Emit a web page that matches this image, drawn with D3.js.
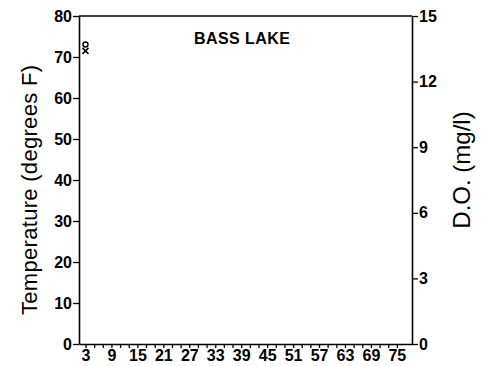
<!DOCTYPE html>
<html><head><meta charset="utf-8">
<script src="https://cdn.jsdelivr.net/npm/d3@7"></script>
<style>
html,body{margin:0;padding:0;background:#fff;}
svg{display:block;font-family:"Liberation Sans",Arial,sans-serif;}
</style></head>
<body>
<svg id="chart" width="484" height="366"></svg>
<script>
// ---- data ----
const title = "BASS LAKE";
const xTickLabels = [3, 9, 15, 21, 27, 33, 39, 45, 51, 57, 63, 69, 75];
const tempTicks = [0, 10, 20, 30, 40, 50, 60, 70, 80];
const doTicks = [0, 3, 6, 9, 12, 15];
const tempDays = [3];
const tempValues = [71.5];
const doDays = [3];
const doValues = [13.7];

// ---- layout ----
const W = 484, H = 366;
const m = {left: 79, right: 72, top: 16, bottom: 22};
const svg = d3.select("#chart");
const x = d3.scaleLinear().domain([1.5, 78.5]).range([m.left, W - m.right]);
const yT = d3.scaleLinear().domain([0, 80]).range([H - m.bottom, m.top]);
const yD = d3.scaleLinear().domain([0, 15]).range([H - m.bottom, m.top]);

const tickFont = "bold 16px 'Liberation Sans', Arial, sans-serif";

// top frame line
svg.append("line").attr("x1", x.range()[0]).attr("x2", x.range()[1])
  .attr("y1", m.top).attr("y2", m.top).attr("stroke", "#000").attr("stroke-width", 1.6);

// left axis
const gL = svg.append("g").attr("transform", `translate(${m.left},0)`)
  .call(d3.axisLeft(yT).tickValues(tempTicks).tickSize(6).tickPadding(1).tickSizeOuter(0));
// right axis
const gR = svg.append("g").attr("transform", `translate(${W - m.right},0)`)
  .call(d3.axisRight(yD).tickValues(doTicks).tickSize(6).tickPadding(1).tickSizeOuter(0));
// bottom axis
const minor = d3.range(3, 77, 2);
const gB = svg.append("g").attr("transform", `translate(0,${H - m.bottom})`)
  .call(d3.axisBottom(x).tickValues(minor).tickSize(4).tickSizeOuter(0)
    .tickFormat(d => xTickLabels.includes(d) ? d : ""));
gB.selectAll(".tick text").attr("dy", "0.9em").attr("y", 3);

[gL, gR, gB].forEach(g => {
  g.select(".domain").attr("stroke", "#000").attr("stroke-width", 1.6);
  g.selectAll(".tick line").attr("stroke", "#000").attr("stroke-width", 1.3);
  g.selectAll(".tick text").style("font", tickFont).attr("fill", "#000");
});

// title
svg.append("text").attr("x", 242).attr("y", 44).attr("text-anchor", "middle")
  .style("font", "bold 16px 'Liberation Sans', Arial, sans-serif")
  .attr("textLength", 96).attr("lengthAdjust", "spacing").text(title);

// axis titles
svg.append("text").attr("transform", `translate(37,190) rotate(-90)`)
  .attr("text-anchor", "middle").style("font", "22px 'Liberation Sans', Arial, sans-serif")
  .attr("textLength", 250).attr("lengthAdjust", "spacing")
  .text("Temperature (degrees F)");
svg.append("text").attr("transform", `translate(470,170) rotate(-90)`)
  .attr("text-anchor", "middle").style("font", "24px 'Liberation Sans', Arial, sans-serif")
  .text("D.O. (mg/l)");

// temperature markers (x)
const s = 3;
svg.append("g").selectAll("path").data(tempDays.map((d, i) => [d, tempValues[i]])).join("path")
  .attr("d", d => {
    const cx = x(d[0]), cy = yT(d[1]);
    return `M${cx - s},${cy - s}L${cx + s},${cy + s}M${cx - s},${cy + s}L${cx + s},${cy - s}`;
  })
  .attr("stroke", "#000").attr("stroke-width", 1.5).attr("fill", "none");
// DO markers (circle)
svg.append("g").selectAll("circle").data(doDays.map((d, i) => [d, doValues[i]])).join("circle")
  .attr("cx", d => x(d[0])).attr("cy", d => yD(d[1])).attr("r", 2.5)
  .attr("stroke", "#000").attr("stroke-width", 1.4).attr("fill", "none");
</script>
</body></html>
